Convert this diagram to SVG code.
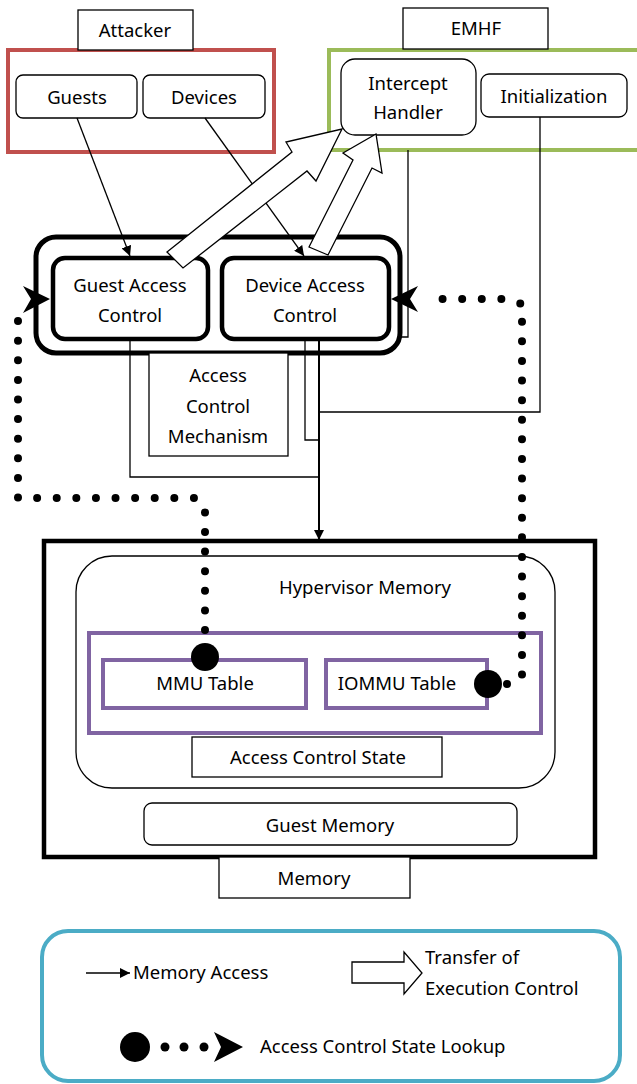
<svg xmlns="http://www.w3.org/2000/svg" width="637" height="1084" viewBox="0 0 637 1084">
  <style>
    text { font-family: "Noto Sans", "Open Sans", sans-serif; font-size: 18.5px; fill: #000; text-anchor: middle; }
    .lbl { fill: #fff; stroke: #000; stroke-width: 1.3; }
    .rbox { fill: #fff; stroke: #000; stroke-width: 1.3; }
    .thick { fill: #fff; stroke: #000; stroke-width: 4.5; }
    .wire { fill: none; stroke: #000; stroke-width: 1.3; }
    .dots { fill: none; stroke: #000; stroke-width: 8; stroke-linecap: round; stroke-dasharray: 0 19.6; }
    .block { fill: #fff; stroke: #000; stroke-width: 1.3; stroke-linejoin: miter; }
    .start { text-anchor: start; }
  </style>
  <defs>
    <marker id="tri" viewBox="0 0 10 10" refX="10" refY="5" markerWidth="10" markerHeight="10" markerUnits="userSpaceOnUse" orient="auto">
      <path d="M0,0 L10,5 L0,10 Z" fill="#000"/>
    </marker>
  </defs>

  <rect width="637" height="1084" fill="#fff"/>

  <!-- attacker -->
  <g id="attacker">
    <rect x="8" y="50" width="266" height="102" fill="none" stroke="#c0504d" stroke-width="4"/>
    <rect class="lbl" x="78" y="10" width="115" height="40"/>
    <text x="135" y="37">Attacker</text>
  </g>
  <g id="guests">
    <rect class="rbox" x="16" y="75" width="121" height="43" rx="7"/>
    <text x="77" y="104">Guests</text>
  </g>
  <g id="devices">
    <rect class="rbox" x="143" y="75" width="122" height="43" rx="7"/>
    <text x="204" y="104">Devices</text>
  </g>

  <!-- EMHF -->
  <g id="emhf">
    <rect x="329" y="50" width="320" height="100" fill="none" stroke="#9bbb59" stroke-width="4"/>
    <rect class="lbl" x="403" y="8" width="145" height="41"/>
    <text x="476" y="35">EMHF</text>
  </g>
  <g id="intercept-handler">
    <rect class="rbox" x="341" y="59" width="135" height="76" rx="14"/>
    <text x="408" y="90">Intercept</text>
    <text x="408" y="119">Handler</text>
  </g>
  <g id="initialization">
    <rect class="rbox" x="481" y="74" width="146" height="43" rx="8"/>
    <text x="554" y="103">Initialization</text>
  </g>

  <!-- access control mechanism -->
  <g id="access-control-mechanism">
    <rect x="36" y="237" width="364" height="116" rx="20" fill="#fff" stroke="#000" stroke-width="5"/>
    <rect class="lbl" x="149" y="353" width="139" height="103"/>
    <text x="218" y="382">Access</text>
    <text x="218" y="413">Control</text>
    <text x="218" y="443">Mechanism</text>
  </g>

  <!-- connectors: memory accesses -->
  <g id="connectors">
    <line class="wire" x1="77" y1="118" x2="130" y2="256" marker-end="url(#tri)"/>
    <line class="wire" x1="205" y1="118" x2="304" y2="256" marker-end="url(#tri)"/>
    <polyline class="wire" points="130,340 130,477 319,477"/>
    <polyline class="wire" points="305,340 305,440 319,440"/>
    <polyline class="wire" points="540,117 540,412 319,412"/>
    <polyline class="wire" points="408,150 408,337 398,337"/>
    <line x1="319" y1="340" x2="319" y2="540" stroke="#000" stroke-width="2" marker-end="url(#tri)"/>
  </g>

  <g id="guest-access-control">
    <rect class="thick" x="53" y="258" width="155" height="81" rx="12"/>
    <text x="130" y="292">Guest Access</text>
    <text x="130" y="322">Control</text>
  </g>
  <g id="device-access-control">
    <rect class="thick" x="222" y="258" width="167" height="81" rx="12"/>
    <text x="305" y="292">Device Access</text>
    <text x="305" y="322">Control</text>
  </g>

  <!-- transfers of execution control -->
  <g id="control-transfers">
    <polygon class="block" points="167,252 292,152 286,142 342,129 316,181 307,171 183,268"/>
    <polygon class="block" points="309,247 353,160 343,153 376,134 382,173 372,168 328,255"/>
  </g>

  <!-- memory -->
  <g id="memory">
    <rect x="44" y="541" width="551" height="316" fill="#fff" stroke="#000" stroke-width="4.5"/>
    <rect class="lbl" x="219" y="857" width="191" height="41"/>
    <text x="314" y="885">Memory</text>
  </g>
  <g id="hypervisor-memory">
    <rect class="rbox" x="76" y="556" width="479" height="232" rx="36"/>
    <text x="365" y="594">Hypervisor Memory</text>
  </g>
  <g id="access-control-state">
    <rect x="89" y="633" width="452" height="100" fill="none" stroke="#8064a2" stroke-width="4"/>
    <rect class="lbl" x="192" y="737" width="250" height="40"/>
    <text x="318" y="764">Access Control State</text>
  </g>
  <g id="mmu-table">
    <rect x="103" y="660" width="203" height="48" fill="#fff" stroke="#8064a2" stroke-width="4"/>
    <text x="205" y="690">MMU Table</text>
  </g>
  <g id="iommu-table">
    <rect x="326" y="660" width="161" height="48" fill="#fff" stroke="#8064a2" stroke-width="4"/>
    <text x="397" y="690">IOMMU Table</text>
  </g>
  <g id="guest-memory">
    <rect class="rbox" x="144" y="803" width="373" height="42" rx="8"/>
    <text x="330" y="832">Guest Memory</text>
  </g>

  <!-- access control state lookups -->
  <g id="lookups">
    <path class="dots" d="M205,630 V512 L197,498 H18 V305"/>
    <path d="M50,299 L23,286 L31,299 L23,313 Z" fill="#000"/>
    <circle cx="205" cy="657" r="14" fill="#000"/>
    <path class="dots" d="M507,684 L522,678 V304 L507,299 H428"/>
    <path d="M391,299 L418,286 L410,299 L418,312 Z" fill="#000"/>
    <circle cx="488" cy="684" r="14" fill="#000"/>
  </g>

  <!-- legend -->
  <g id="legend">
    <rect x="42" y="931" width="578" height="150" rx="26" fill="#fff" stroke="#4bacc6" stroke-width="4"/>
    <line class="wire" x1="86" y1="973" x2="130" y2="973" marker-end="url(#tri)"/>
    <text class="start" x="133" y="979">Memory Access</text>
    <polygon class="block" points="352,962 404,962 404,952 422,973 404,994 404,983 352,983"/>
    <text class="start" x="425" y="964">Transfer of</text>
    <text class="start" x="425" y="995">Execution Control</text>
    <circle cx="135" cy="1047" r="15" fill="#000"/>
    <circle cx="165" cy="1047" r="4.5" fill="#000"/>
    <circle cx="184" cy="1047" r="4.5" fill="#000"/>
    <circle cx="204" cy="1047" r="4.5" fill="#000"/>
    <path d="M243,1047 L214,1032 L221,1047 L214,1062 Z" fill="#000"/>
    <text class="start" x="260" y="1053">Access Control State Lookup</text>
  </g>
</svg>
